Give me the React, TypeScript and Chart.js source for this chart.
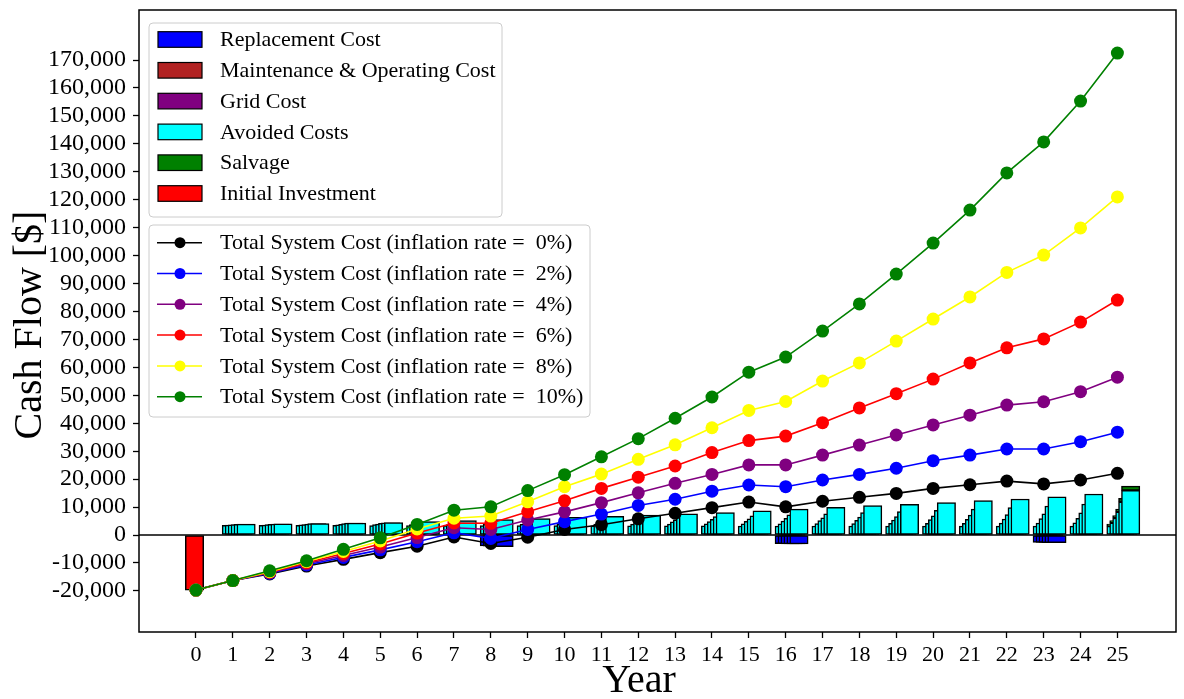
import React, { useEffect, useRef } from 'react';
import { Chart, registerables } from 'chart.js';

Chart.register(...registerables);

// ---------------- data ----------------
const years = [0, 1, 2, 3, 4, 5, 6, 7, 8, 9, 10, 11, 12, 13, 14, 15, 16, 17, 18, 19, 20, 21, 22, 23, 24, 25];
const barYears = [1, 2, 3, 4, 5, 6, 7, 8, 9, 10, 11, 12, 13, 14, 15, 16, 17, 18, 19, 20, 21, 22, 23, 24, 25];
const yTickValues = [-20000, -10000, 0, 10000, 20000, 30000, 40000, 50000, 60000, 70000, 80000, 90000, 100000, 110000, 120000, 130000, 140000, 150000, 160000, 170000];
const rateLabels = ['0%', '2%', '4%', '6%', '8%', '10%'];

// cumulative total system cost per inflation rate (years 0..25)
const total0 = [-19700, -16300, -13900, -11100, -8700, -6300, -4000, -700, -3000, -800, 2000, 3700, 5800, 7800, 9800, 11800, 10100, 12100, 13500, 14900, 16700, 18000, 19300, 18300, 19700, 22100];
const total2 = [-19700, -16300, -13700, -10700, -8000, -5300, -2400, 800, -1200, 2000, 4800, 7500, 10600, 12800, 15700, 17900, 17300, 19700, 21700, 23900, 26600, 28600, 30800, 30800, 33400, 36800];
const total4 = [-19700, -16300, -13500, -10300, -7300, -4300, -900, 2600, 2000, 5400, 8300, 11600, 15100, 18500, 21700, 25100, 25100, 28600, 32200, 35800, 39400, 42900, 46500, 47700, 51300, 56500];
const total6 = [-19700, -16300, -13300, -9900, -6600, -3200, 700, 4300, 4200, 8300, 12300, 16700, 20700, 24700, 29500, 33800, 35400, 40200, 45500, 50600, 55800, 61600, 67000, 70200, 76200, 84100];
const total8 = [-19700, -16300, -13100, -9500, -5900, -2100, 2200, 6000, 6800, 11900, 17300, 21800, 27100, 32300, 38400, 44600, 47800, 55100, 61600, 69400, 77300, 85200, 94000, 100200, 109900, 121000];
const total10 = [-19700, -16300, -12800, -9200, -5100, -1000, 3800, 8900, 10100, 15900, 21600, 28000, 34500, 41800, 49400, 58300, 63700, 73000, 82700, 93400, 104500, 116300, 129600, 140700, 155300, 172500];
const totals = [total0, total2, total4, total6, total8, total10];

// avoided costs per inflation rate (years 1..25)
const avoided0 = [3500, 3500, 3450, 3450, 3400, 3400, 3400, 3350, 3350, 3350, 3300, 3300, 3300, 3300, 3250, 3250, 3250, 3250, 3200, 3200, 3200, 3200, 3200, 3200, 3200];
const avoided2 = [3550, 3600, 3620, 3650, 3700, 3720, 3750, 3800, 3820, 3850, 3880, 3900, 3950, 3980, 4000, 4050, 4080, 4100, 4150, 4180, 4200, 4250, 4300, 4350, 4400];
const avoided4 = [3620, 3700, 3780, 3850, 3950, 4030, 4120, 4200, 4300, 4400, 4500, 4600, 4700, 4800, 4920, 5030, 5150, 5270, 5380, 5500, 5620, 5750, 5870, 5990, 6100];
const avoided6 = [3700, 3820, 3950, 4080, 4200, 4350, 4500, 4650, 4800, 4950, 5100, 5280, 5450, 5620, 5800, 6000, 6200, 6400, 6600, 6850, 7100, 7350, 7600, 7950, 8300];
const avoided8 = [3800, 3950, 4100, 4250, 4400, 4600, 4800, 5000, 5250, 5500, 5750, 6000, 6300, 6600, 6900, 7200, 7600, 8000, 8400, 8800, 9300, 9800, 10400, 11100, 11900];
const avoided10 = [3900, 4000, 4100, 4300, 4500, 4800, 5200, 5500, 5900, 6300, 6700, 7100, 7600, 8000, 8700, 9300, 9900, 10500, 11000, 11600, 12300, 12900, 13700, 14700, 16000];
const avoided = [avoided0, avoided2, avoided4, avoided6, avoided8, avoided10];

// replacement costs (years 8, 16, 23)
const replacementYears = [8, 16, 23];
const replacement0 = [-3900, -3100, -2600];
const replacement2 = [-4000, -3100, -2650];
const replacement4 = [-4050, -3150, -2650];
const replacement6 = [-4100, -3150, -2700];
const replacement8 = [-4150, -3200, -2700];
const replacement10 = [-4200, -3200, -2700];
const replacement = [replacement0, replacement2, replacement4, replacement6, replacement8, replacement10];

// salvage at final year, per inflation rate
const salvageYear = 25;
const salvage = [700, 800, 900, 1000, 1200, 1500];

// initial investment at year 0
const initialInvestment = -19700;

// ---------------- style ----------------
const FONT = '"Liberation Serif", "Times New Roman", serif';
const lineColors = ['#000000', '#0000ff', '#800080', '#ff0000', '#ffff00', '#008000'];
const barLegend = [
  { label: 'Replacement Cost', color: '#0000ff' },
  { label: 'Maintenance & Operating Cost', color: '#b22222' },
  { label: 'Grid Cost', color: '#800080' },
  { label: 'Avoided Costs', color: '#00ffff' },
  { label: 'Salvage', color: '#008000' },
  { label: 'Initial Investment', color: '#ff0000' },
];
const BAR_STEP = 0.08;
const BAR_START = -0.04;
const BAR_PX = 18.4;

function roundRect(ctx: CanvasRenderingContext2D, x: number, y: number, w: number, h: number, r: number) {
  ctx.beginPath();
  ctx.moveTo(x + r, y);
  ctx.lineTo(x + w - r, y);
  ctx.arcTo(x + w, y, x + w, y + r, r);
  ctx.lineTo(x + w, y + h - r);
  ctx.arcTo(x + w, y + h, x + w - r, y + h, r);
  ctx.lineTo(x + r, y + h);
  ctx.arcTo(x, y + h, x, y + h - r, r);
  ctx.lineTo(x, y + r);
  ctx.arcTo(x, y, x + r, y, r);
  ctx.closePath();
}

const decorPlugin = {
  id: 'decor',
  beforeDatasetsDraw(chart: any) {
    const { ctx, chartArea } = chart;
    const y0 = chart.scales.y.getPixelForValue(0);
    ctx.save();
    ctx.strokeStyle = '#000';
    ctx.lineWidth = 1.5;
    ctx.beginPath();
    ctx.moveTo(chartArea.left, y0);
    ctx.lineTo(chartArea.right, y0);
    ctx.stroke();
    ctx.restore();
  },
  afterDraw(chart: any) {
    const { ctx, chartArea } = chart;
    ctx.save();
    // frame
    ctx.strokeStyle = '#000';
    ctx.lineWidth = 1.5;
    ctx.strokeRect(chartArea.left, chartArea.top, chartArea.right - chartArea.left, chartArea.bottom - chartArea.top);

    // axis titles
    ctx.fillStyle = '#000';
    ctx.font = `40px ${FONT}`;
    ctx.textAlign = 'center';
    ctx.textBaseline = 'middle';
    ctx.fillText('Year', 639, 681);
    ctx.save();
    ctx.translate(30, 325);
    ctx.rotate(-Math.PI / 2);
    ctx.fillText('Cash Flow [$]', 0, 0);
    ctx.restore();

    // legend 1 (bars)
    const rowH = 30.8;
    ctx.fillStyle = 'rgba(255,255,255,0.85)';
    ctx.strokeStyle = '#cccccc';
    ctx.lineWidth = 1;
    roundRect(ctx, 149, 23, 353, 194, 4);
    ctx.fill();
    ctx.stroke();
    ctx.font = `22px ${FONT}`;
    ctx.textAlign = 'left';
    ctx.textBaseline = 'middle';
    barLegend.forEach((item, i) => {
      const cy = 39.5 + i * rowH;
      ctx.fillStyle = item.color;
      ctx.fillRect(158, cy - 7.8, 44, 15.6);
      ctx.strokeStyle = '#000';
      ctx.lineWidth = 1.2;
      ctx.strokeRect(158, cy - 7.8, 44, 15.6);
      ctx.fillStyle = '#000';
      ctx.fillText(item.label, 220, cy + 1);
    });

    // legend 2 (lines)
    ctx.fillStyle = 'rgba(255,255,255,0.85)';
    ctx.strokeStyle = '#cccccc';
    ctx.lineWidth = 1;
    roundRect(ctx, 149, 225, 441, 192, 4);
    ctx.fill();
    ctx.stroke();
    rateLabels.forEach((r, i) => {
      const cy = 242.7 + i * rowH;
      ctx.strokeStyle = lineColors[i];
      ctx.lineWidth = 1.5;
      ctx.beginPath();
      ctx.moveTo(157, cy);
      ctx.lineTo(202, cy);
      ctx.stroke();
      ctx.fillStyle = lineColors[i];
      ctx.beginPath();
      ctx.arc(180, cy, 5.5, 0, Math.PI * 2);
      ctx.fill();
      ctx.fillStyle = '#000';
      ctx.fillText(`Total System Cost (inflation rate =  ${r})`, 220, cy + 1);
    });
    ctx.restore();
  },
};

export default function App() {
  const ref = useRef<HTMLCanvasElement | null>(null);

  useEffect(() => {
    if (!ref.current) return;
    const datasets: any[] = [];

    // lines (on top)
    totals.forEach((series, r) => {
      datasets.push({
        type: 'line',
        label: `Total System Cost (inflation rate =  ${rateLabels[r]})`,
        data: years.map((x, i) => ({ x, y: series[i] })),
        borderColor: lineColors[r],
        backgroundColor: lineColors[r],
        borderWidth: 1.6,
        pointRadius: 6.5,
        pointBorderWidth: 0,
        pointBackgroundColor: lineColors[r],
        tension: 0,
        order: 5 - r,
      });
    });

    const barCommon = {
      type: 'bar',
      grouped: false,
      barThickness: BAR_PX,
      borderColor: '#000000',
      borderWidth: 1.5,
      borderSkipped: false,
    };

    avoided.forEach((series, r) => {
      const off = BAR_START + r * BAR_STEP;
      const base = 100 - r * 10;
      datasets.push({
        ...barCommon,
        label: `Avoided Costs ${rateLabels[r]}`,
        data: barYears.map((yr, i) => ({ x: yr + off, y: [0, series[i]] })),
        backgroundColor: '#00ffff',
        order: base,
      });
      datasets.push({
        ...barCommon,
        label: `Salvage ${rateLabels[r]}`,
        data: [{ x: salvageYear + off, y: [series[series.length - 1], series[series.length - 1] + salvage[r]] }],
        backgroundColor: '#008000',
        order: base - 1,
      });
      datasets.push({
        ...barCommon,
        label: `Replacement Cost ${rateLabels[r]}`,
        data: replacementYears.map((yr, i) => ({ x: yr + off, y: [0, replacement[r][i]] })),
        backgroundColor: '#0000ff',
        order: base - 2,
      });
    });

    datasets.push({
      ...barCommon,
      label: 'Initial Investment',
      data: [{ x: 0 + BAR_START, y: [0, initialInvestment] }],
      backgroundColor: '#ff0000',
      order: 200,
    });

    const chart = new Chart(ref.current, {
      type: 'bar',
      data: { datasets },
      options: {
        animation: false,
        responsive: false,
        maintainAspectRatio: false,
        events: [],
        layout: { padding: { top: 10, right: 8, left: 0, bottom: 0 } },
        plugins: {
          legend: { display: false },
          tooltip: { enabled: false },
          title: { display: false },
        },
        scales: {
          x: {
            type: 'linear',
            min: -1.546,
            max: 26.59,
            offset: false,
            border: { display: false },
            grid: {
              offset: false,
              display: true,
              drawOnChartArea: false,
              drawTicks: true,
              tickLength: 6,
              tickColor: '#000',
              tickWidth: 1.3,
            },
            ticks: {
              autoSkip: false,
              maxRotation: 0,
              minRotation: 0,
              padding: 4,
              color: '#000',
              font: { family: FONT, size: 22 },
              callback: (v: any) => String(v),
            },
            afterBuildTicks: (s: any) => {
              s.ticks = years.map((v) => ({ value: v }));
            },
            afterFit: (s: any) => {
              s.height = 67;
              s.paddingLeft = 0;
              s.paddingRight = 0;
            },
          },
          y: {
            type: 'linear',
            min: -34700,
            max: 187900,
            border: { display: false },
            grid: {
              display: true,
              drawOnChartArea: false,
              drawTicks: true,
              tickLength: 6,
              tickColor: '#000',
              tickWidth: 1.3,
            },
            ticks: {
              padding: 7,
              color: '#000',
              font: { family: FONT, size: 24 },
              callback: (v: any) => Number(v).toLocaleString('en-US'),
            },
            afterBuildTicks: (s: any) => {
              s.ticks = yTickValues.map((v) => ({ value: v }));
            },
            afterFit: (s: any) => {
              s.width = 139;
              s.paddingTop = 0;
              s.paddingBottom = 0;
            },
          },
        },
      },
      plugins: [decorPlugin],
    } as any);

    return () => chart.destroy();
  }, []);

  return (
    <div style={{ position: 'absolute', left: 0, top: 0, width: 1184, height: 699, background: '#fff' }}>
      <canvas ref={ref} width={1184} height={699} style={{ width: 1184, height: 699, display: 'block' }} />
    </div>
  );
}
